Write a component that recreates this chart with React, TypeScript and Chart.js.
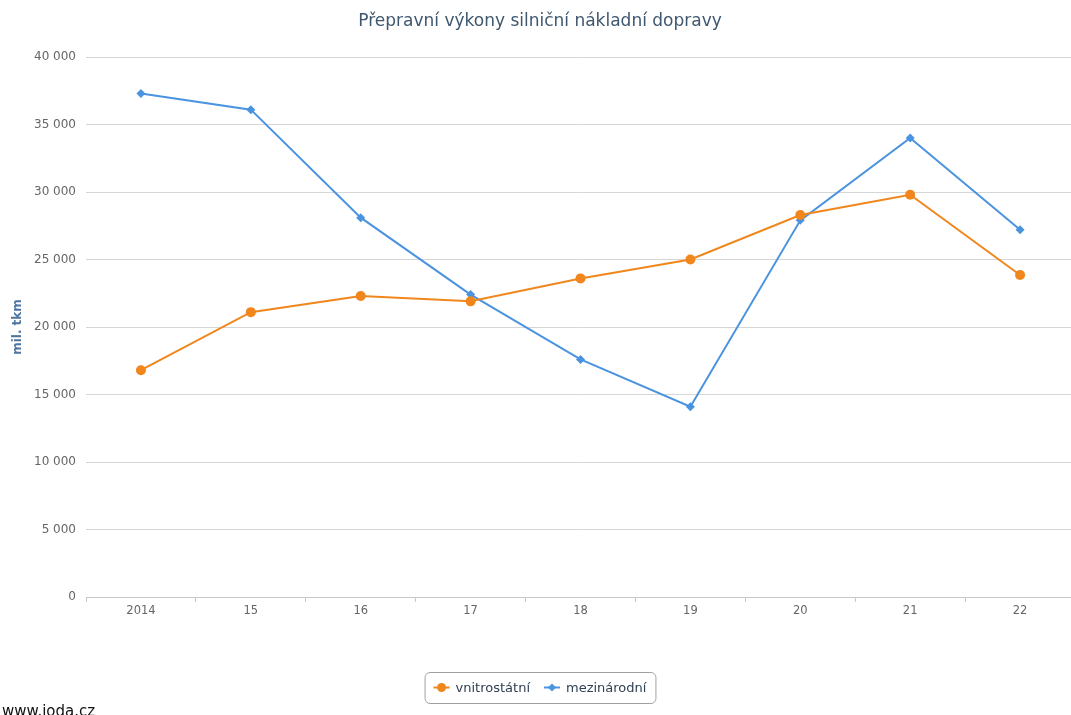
import React, { useEffect, useRef } from "react";
import { Chart, registerables } from "chart.js";

Chart.register(...registerables);

// Road freight transport performance, million tonne-km
const years = ["2014", "15", "16", "17", "18", "19", "20", "21", "22"];
const domestic = [16800, 21100, 22300, 21900, 23600, 25000, 28300, 29800, 23850];
const international = [37300, 36100, 28100, 22400, 17600, 14100, 27900, 34000, 27200];

const seriesNames = ["vnitrostátní", "mezinárodní"];
const chartTitle = "Přepravní výkony silniční nákladní dopravy";
const axisTitle = "mil. tkm";
const footerText = "www.ioda.cz";

const ORANGE = "#f0861c";
const BLUE = "#4a93e0";
const FONT = '"DejaVu Sans", Verdana, sans-serif';

const formatThousands = (v: number) =>
  String(v).replace(/\B(?=(\d{3})+(?!\d))/g, " ");

// Draws the title, axis caption, boxed legend and source line
const decorations = {
  id: "decorations",
  afterDraw(chart: any) {
    const ctx: CanvasRenderingContext2D = chart.ctx;
    const w = chart.width;
    const cx = w / 2;
    const area = chart.chartArea;
    ctx.save();

    // title
    ctx.fillStyle = "#3e576f";
    ctx.font = `17px ${FONT}`;
    ctx.textAlign = "center";
    ctx.textBaseline = "middle";
    ctx.fillText(chartTitle, cx, 22);

    // y axis caption
    ctx.save();
    ctx.translate(18, (area.top + area.bottom) / 2);
    ctx.rotate(-Math.PI / 2);
    ctx.fillStyle = "#4d759e";
    ctx.font = `bold 12px ${FONT}`;
    ctx.fillText(axisTitle, 0, 0);
    ctx.restore();

    // legend
    ctx.font = `13px ${FONT}`;
    const iconW = 16;
    const gapIcon = 6;
    const gapItem = 14;
    const pad = 9;
    const tw = seriesNames.map((n) => ctx.measureText(n).width);
    const boxW = pad * 2 + iconW * 2 + gapIcon * 2 + tw[0] + tw[1] + gapItem;
    const boxH = 31;
    const bx = cx - boxW / 2;
    const by = 672;
    ctx.beginPath();
    ctx.roundRect(bx + 0.5, by + 0.5, boxW, boxH, 5);
    ctx.strokeStyle = "#a0a0a0";
    ctx.lineWidth = 1;
    ctx.stroke();

    const my = by + boxH / 2;
    let x = bx + pad;
    const colors = [ORANGE, BLUE];
    seriesNames.forEach((name, i) => {
      ctx.strokeStyle = colors[i];
      ctx.fillStyle = colors[i];
      ctx.lineWidth = 2;
      ctx.beginPath();
      ctx.moveTo(x, my);
      ctx.lineTo(x + iconW, my);
      ctx.stroke();
      const mx = x + iconW / 2;
      ctx.beginPath();
      if (i === 0) {
        ctx.arc(mx, my, 4.5, 0, Math.PI * 2);
      } else {
        ctx.moveTo(mx, my - 4);
        ctx.lineTo(mx + 4, my);
        ctx.lineTo(mx, my + 4);
        ctx.lineTo(mx - 4, my);
        ctx.closePath();
      }
      ctx.fill();
      x += iconW + gapIcon;
      ctx.fillStyle = "#2f3f52";
      ctx.textAlign = "left";
      ctx.fillText(name, x, my + 1);
      x += tw[i] + gapItem;
    });

    // source
    ctx.fillStyle = "#111";
    ctx.font = `15px ${FONT}`;
    ctx.textAlign = "left";
    ctx.textBaseline = "alphabetic";
    ctx.fillText(footerText, 2, 716);

    ctx.restore();
  },
};

export default function App() {
  const ref = useRef<HTMLCanvasElement>(null);

  useEffect(() => {
    if (!ref.current) return;
    const chart = new Chart(ref.current, {
      type: "line",
      data: {
        labels: years,
        datasets: [
          {
            label: seriesNames[0],
            data: domestic,
            borderColor: ORANGE,
            backgroundColor: ORANGE,
            borderWidth: 2,
            pointStyle: "circle",
            pointRadius: 5,
            pointBorderWidth: 0,
            tension: 0,
          },
          {
            label: seriesNames[1],
            data: international,
            borderColor: BLUE,
            backgroundColor: BLUE,
            borderWidth: 2,
            pointStyle: "rectRot",
            pointRadius: 4.5,
            pointBorderWidth: 0,
            tension: 0,
          },
        ],
      },
      options: {
        animation: false,
        responsive: true,
        maintainAspectRatio: false,
        layout: { padding: { top: 57, right: 3, left: 0, bottom: 0 } },
        plugins: {
          legend: { display: false },
          title: { display: false },
          tooltip: { enabled: false },
        },
        scales: {
          x: {
            offset: true,
            afterFit: (s: any) => {
              s.height = 118;
            },
            grid: {
              display: true,
              offset: true,
              drawOnChartArea: false,
              drawTicks: true,
              tickLength: 5,
              color: "#c8c8c8",
            },
            border: { display: true, color: "#c8c8c8", width: 1 },
            ticks: {
              color: "#666",
              font: { family: FONT, size: 11.5 },
              padding: 2,
              maxRotation: 0,
            },
          },
          y: {
            min: 0,
            max: 40000,
            afterFit: (s: any) => {
              s.width = 86;
            },
            grid: {
              color: "#d6d6d6",
              drawTicks: false,
            },
            border: { display: false },
            ticks: {
              stepSize: 5000,
              color: "#666",
              font: { family: FONT, size: 12 },
              padding: 10,
              callback: (v: any) => formatThousands(Number(v)),
            },
          },
        },
      },
      plugins: [decorations],
    });
    return () => chart.destroy();
  }, []);

  return (
    <div
      style={{
        position: "absolute",
        left: 0,
        top: 0,
        width: 1071,
        height: 715,
        overflow: "hidden",
        background: "#fff",
      }}
    >
      <div style={{ position: "relative", width: 1080, height: 715 }}>
        <canvas ref={ref} />
      </div>
    </div>
  );
}
